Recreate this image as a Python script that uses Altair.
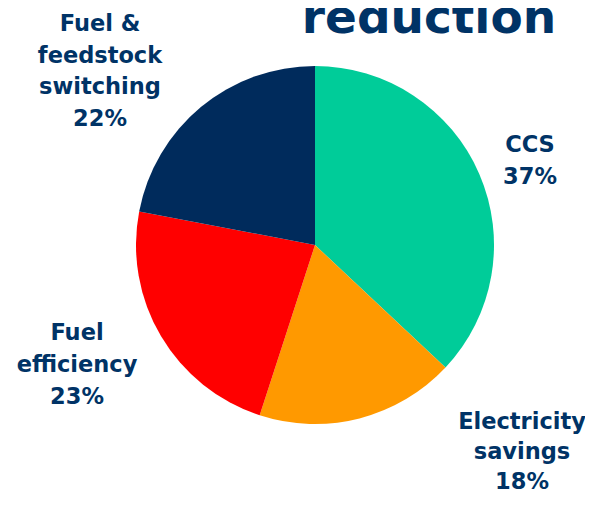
import altair as alt
import pandas as pd

categories = ["CCS", "Electricity savings", "Fuel efficiency", "Fuel & feedstock switching"]
shares = [37, 18, 23, 22]
label_lines = [
    "CCS\n37%",
    "Electricity\nsavings\n18%",
    "Fuel\nefficiency\n23%",
    "Fuel &\nfeedstock\nswitching\n22%",
]
colors = ["#00CC99", "#FF9900", "#FF0000", "#002B5C"]
title_text = "reduction"

df = pd.DataFrame({
    "category": categories,
    "share": shares,
    "label": label_lines,
    "order": list(range(len(categories))),
})

TEXT_COLOR = "#003366"
FONT = "DejaVu Sans"

pie = alt.Chart(df).mark_arc(radius=179).encode(
    theta=alt.Theta("share:Q", stack=True),
    order=alt.Order("order:Q"),
    color=alt.Color("category:N", scale=alt.Scale(domain=categories, range=colors), legend=None),
    x=alt.value(307),
    y=alt.value(237),
)

label_pos = {
    "CCS": (522, 137, 31.5),
    "Electricity savings": (514, 414, 30),
    "Fuel efficiency": (69, 325, 32),
    "Fuel & feedstock switching": (92, 16, 31.5),
}

layers = [pie]
for cat in categories:
    px, py, lh = label_pos[cat]
    layers.append(
        alt.Chart(df).transform_filter(alt.datum.category == cat).mark_text(
            font=FONT, fontSize=22.5, fontWeight="bold", color=TEXT_COLOR,
            align="center", baseline="middle", lineBreak="\n", lineHeight=lh,
        ).encode(text="label:N", x=alt.value(px), y=alt.value(py))
    )

title = alt.Chart(pd.DataFrame({"t": [title_text]})).mark_text(
    font=FONT, fontSize=47, fontWeight="bold", color=TEXT_COLOR,
    align="center", baseline="alphabetic",
).encode(text="t:N", x=alt.value(421), y=alt.value(25))
layers.append(title)

chart = alt.layer(*layers).properties(
    width=577, height=486, padding=0,
    autosize=alt.AutoSizeParams(type="none"),
).configure_view(strokeWidth=0)

chart.save("out.html", embed_options={"renderer": "svg", "actions": False})
